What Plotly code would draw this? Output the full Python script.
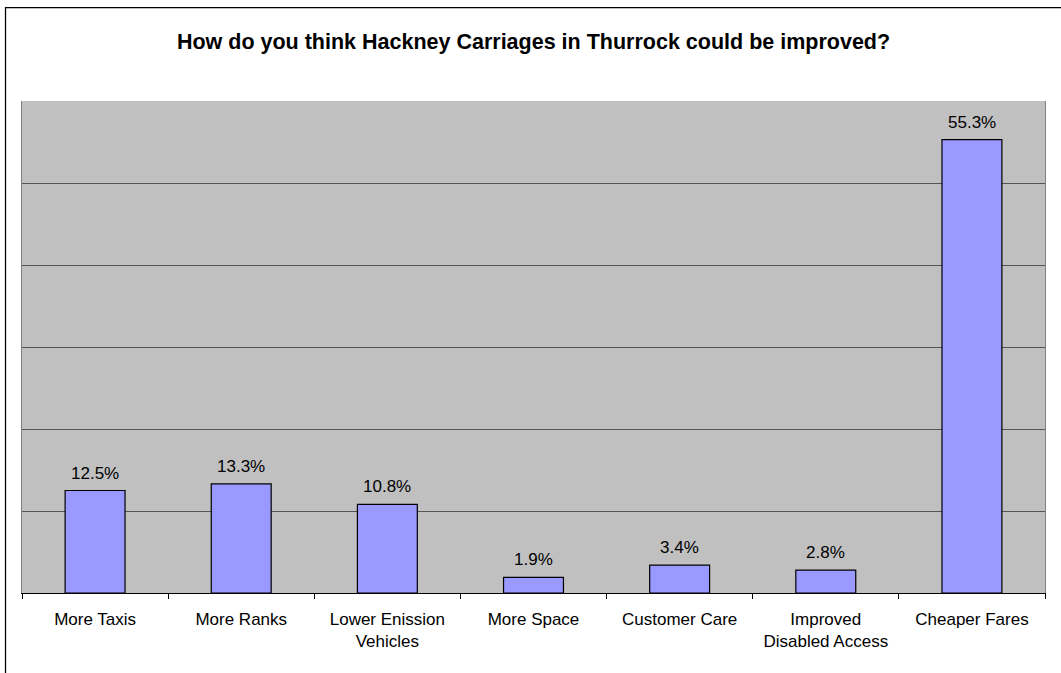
import plotly.graph_objects as go

categories = ["More Taxis", "More Ranks", "Lower Enission<br>Vehicles", "More Space",
              "Customer Care", "Improved<br>Disabled Access", "Cheaper Fares"]
values = [12.5, 13.3, 10.8, 1.9, 3.4, 2.8, 55.3]
labels = [f"{v:.1f}%" for v in values]

W, H = 1061, 673
ml, mr, mt, mb = 21.5, 15.5, 100.5, 80
FONT = "Liberation Sans, Arial"

fig = go.Figure()
fig.add_trace(go.Bar(
    x=categories, y=values, width=0.41,
    marker=dict(color="#9999FF", line=dict(color="#000000", width=1.2)),
    hoverinfo="skip",
))

for c, v, t in zip(categories, values, labels):
    fig.add_annotation(x=c, y=v, text=t, showarrow=False, yanchor="bottom",
                       yshift=6, font=dict(family=FONT, size=17, color="#000"))

# outer chart frame (left and top edges visible)
pw = W - ml - mr
ph = H - mt - mb
fig.add_shape(type="rect", xref="paper", yref="paper",
              x0=(5 - ml) / pw, x1=(W + 10 - ml) / pw,
              y0=-(H + 10 - (H - mb)) / ph, y1=1 + (mt - 7) / ph,
              line=dict(color="#000000", width=1.3), layer="below")

fig.update_layout(
    width=W, height=H,
    margin=dict(l=ml, r=mr, t=mt, b=mb, pad=0),
    paper_bgcolor="#FFFFFF", plot_bgcolor="#C0C0C0",
    showlegend=False,
    title=dict(text="<b>How do you think Hackney Carriages in Thurrock could be improved?</b>",
               x=0.5, xref="paper", y=1 - 41 / H, yanchor="middle",
               font=dict(family=FONT, size=21.5, color="#000")),
    font=dict(family=FONT, size=17, color="#000"),
)
fig.update_xaxes(
    type="category", tickson="boundaries", ticks="outside", ticklen=5,
    tickcolor="#000", showline=True, linecolor="#000", linewidth=1.3,
    showgrid=False, tickfont=dict(size=17), range=[-0.5, 6.5],
    ticklabelstandoff=10,
)
fig.update_yaxes(
    range=[0, 60], dtick=10, showticklabels=False, ticks="",
    gridcolor="#555555", gridwidth=1, zeroline=False,
    showline=True, linecolor="#808080", linewidth=1, mirror=True,
)

fig.write_html("out.html")
